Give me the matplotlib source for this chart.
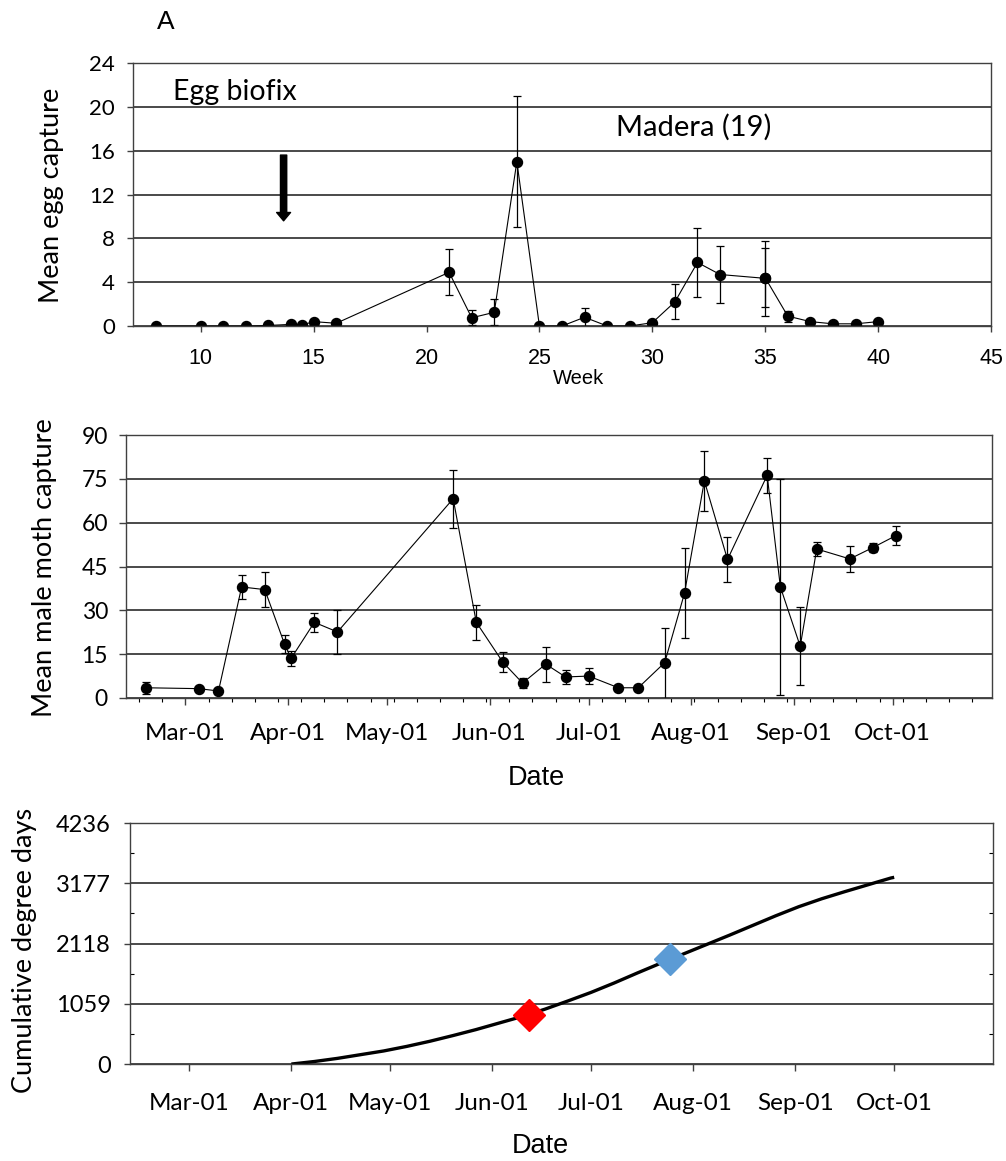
"""Madera trap data: egg capture, male moth capture and degree-day accumulation."""
from datetime import datetime, timedelta

import matplotlib
matplotlib.use("Agg")
import matplotlib.pyplot as plt
import matplotlib.dates as mdates
from matplotlib.ticker import MultipleLocator

CALIBRI = ["Lato", "DejaVu Sans"]
ARIAL = ["Liberation Sans", "DejaVu Sans"]
GRID = "#3c3c3c"
SPINE = "#404040"

# ── egg traps (by week) ───────────────────────────────────────────────────────
egg_week = [8, 10, 11, 12, 13, 14, 14.5, 15, 16, 21, 22, 23, 24, 25, 26, 27, 28,
            29, 30, 31, 32, 33, 35, 35, 36, 37, 38, 39, 40]
egg_mean = [0, 0, 0, 0, 0.05, 0.15, 0.1, 0.4, 0.25, 4.9, 0.75, 1.25, 15.0, 0, 0,
            0.8, 0, 0, 0.3, 2.2, 5.8, 4.7, 4.35, 4.4, 0.9, 0.4, 0.2, 0.2, 0.4]
egg_se = [0, 0, 0, 0, 0, 0.1, 0, 0.15, 0.1, 2.1, 0.7, 1.2, 6.0, 0, 0, 0.8, 0, 0,
          0.2, 1.6, 3.15, 2.6, 3.4, 2.7, 0.5, 0.1, 0.1, 0.1, 0.1]
biofix_week = 13.67

# ── male moth traps (by date) ─────────────────────────────────────────────────
moth_date = ["2001-02-17", "2001-03-05", "2001-03-11", "2001-03-18", "2001-03-25",
             "2001-03-31", "2001-04-02", "2001-04-09", "2001-04-16", "2001-05-21",
             "2001-05-28", "2001-06-05", "2001-06-11", "2001-06-18", "2001-06-24",
             "2001-07-01", "2001-07-10", "2001-07-16", "2001-07-24", "2001-07-30",
             "2001-08-05", "2001-08-12", "2001-08-24", "2001-08-28", "2001-09-03",
             "2001-09-08", "2001-09-18", "2001-09-25", "2001-10-02"]
moth_mean = [3.5, 3.2, 2.4, 38.0, 37.1, 18.4, 13.6, 25.9, 22.6, 68.2, 25.9, 12.3,
             5.1, 11.6, 7.2, 7.5, 3.5, 3.5, 12.1, 35.9, 74.3, 47.4, 76.2, 38.0,
             17.7, 51.0, 47.6, 51.5, 55.6]
moth_se = [2.1, 0.5, 0.5, 4.2, 6.0, 3.0, 2.5, 3.2, 7.4, 10.0, 6.0, 3.5, 1.8, 6.0,
           2.4, 2.8, 0.8, 0.8, 12.0, 15.4, 10.3, 7.6, 6.0, 37.0, 13.4, 2.5, 4.4,
           1.5, 3.4]

# ── cumulative degree days (weekly) ───────────────────────────────────────────
dd_date = ["2001-04-01", "2001-04-08", "2001-04-15", "2001-04-22", "2001-04-29",
           "2001-05-06", "2001-05-13", "2001-05-20", "2001-05-27", "2001-06-03",
           "2001-06-10", "2001-06-17", "2001-06-24", "2001-07-01", "2001-07-08",
           "2001-07-15", "2001-07-22", "2001-07-29", "2001-08-05", "2001-08-12",
           "2001-08-19", "2001-08-26", "2001-09-02", "2001-09-09", "2001-09-16",
           "2001-09-23", "2001-09-30", "2001-10-01"]
dd_value = [0, 45, 100, 165, 230, 310, 400, 500, 605, 720, 835, 965, 1110, 1260,
            1425, 1600, 1770, 1935, 2100, 2265, 2435, 2605, 2765, 2905, 3030,
            3150, 3270, 3282]
dd_ticks = [0, 1059, 2118, 3177, 4236]
flag_date = ["2001-06-12", "2001-07-25"]
flag_value = [861, 1846]
flag_color = ["#FF0000", "#5B9BD5"]

date_min = datetime(2001, 2, 11)
date_max = datetime(2001, 10, 31)


def _d(s):
    return datetime.strptime(s, "%Y-%m-%d")


def _frame(ax):
    for spine in ax.spines.values():
        spine.set_color(SPINE)
        spine.set_linewidth(1.0)
    ax.yaxis.grid(True, color=GRID, linewidth=1.3)
    ax.set_axisbelow(True)
    ax.tick_params(axis="both", colors=SPINE, width=1.0)


fig = plt.figure(figsize=(10.06, 11.61), dpi=100)

# ── A: egg capture ────────────────────────────────────────────────────────────
ax1 = fig.add_axes([0.1322, 0.7192, 0.8529, 0.2265])
_frame(ax1)
ax1.errorbar(egg_week, egg_mean, yerr=egg_se, fmt="-o", color="black",
             lw=0.8, ms=7.2, elinewidth=0.9, capsize=3, capthick=0.9)
ax1.set_xlim(7, 45)
ax1.set_ylim(0, 24)
ax1.set_xticks(range(10, 46, 5))
ax1.set_yticks(range(0, 25, 4))
ax1.tick_params(axis="y", length=4, pad=9, labelsize=16, labelcolor="black")
ax1.tick_params(axis="x", length=4, pad=12, labelsize=15.5, labelcolor="black")
for lab in ax1.get_yticklabels():
    lab.set_family(CALIBRI)
for lab in ax1.get_xticklabels():
    lab.set_family(ARIAL)
ax1.annotate("", xy=(biofix_week, 9.6), xytext=(biofix_week, 15.6),
             arrowprops=dict(facecolor="black", edgecolor="black", width=4.5,
                             headwidth=10, headlength=6, shrink=0))
ax1.text(8.75, 21.35, "Egg biofix", fontsize=20.5, family=CALIBRI, va="center")
ax1.text(28.4, 18.1, "Madera (19)", fontsize=21, family=CALIBRI, va="center")

fig.text(166 / 1006, 1 - 22 / 1161, "A", fontsize=19, family=ARIAL,
         ha="center", va="center")
fig.text(52 / 1006, 1 - 195 / 1161, "Mean egg capture", fontsize=19.5,
         family=CALIBRI, rotation=90, ha="center", va="center")
fig.text(579 / 1006, 1 - 379 / 1161, "Week", fontsize=14.5, family=ARIAL,
         ha="center", va="center")

# ── male moth capture ─────────────────────────────────────────────────────────
ax2 = fig.add_axes([0.1252, 0.3988, 0.8608, 0.2265])
_frame(ax2)
ax2.errorbar([_d(s) for s in moth_date], moth_mean, yerr=moth_se, fmt="-o",
             color="black", lw=0.8, ms=7.2, elinewidth=0.9, capsize=3,
             capthick=0.9)
ax2.set_xlim(date_min, date_max)
ax2.set_ylim(0, 90)
ax2.set_yticks(range(0, 91, 15))
ax2.xaxis.set_major_locator(mdates.MonthLocator(bymonthday=1))
ax2.xaxis.set_major_formatter(mdates.DateFormatter("%b-%d"))
weeks = []
w = datetime(2001, 2, 15)
while w <= date_max:
    weeks.append(w)
    w += timedelta(days=7)
ax2.set_xticks(weeks, minor=True)
ax2.tick_params(axis="y", length=5, pad=8, labelsize=16.5, labelcolor="black")
ax2.tick_params(axis="x", which="major", length=5, pad=13, labelsize=17.5,
                labelcolor="black")
ax2.tick_params(axis="x", which="minor", length=3, width=0.8)
for lab in ax2.get_yticklabels() + ax2.get_xticklabels():
    lab.set_family(CALIBRI)

fig.text(45 / 1006, 1 - 568 / 1161, "Mean male moth capture", fontsize=19.5,
         family=CALIBRI, rotation=90, ha="center", va="center")
fig.text(536 / 1006, 1 - 778 / 1161, "Date", fontsize=19.5, family=ARIAL,
         ha="center", va="center")

# ── cumulative degree days ────────────────────────────────────────────────────
ax3 = fig.add_axes([0.1292, 0.0835, 0.8579, 0.2076])
_frame(ax3)
ax3.plot([_d(s) for s in dd_date], dd_value, color="black", lw=2.4,
         solid_capstyle="butt")
for s, v, c in zip(flag_date, flag_value, flag_color):
    ax3.plot(_d(s), v, marker="D", ms=16, color=c, mec=c, zorder=5)
ax3.set_xlim(date_min, date_max)
ax3.set_ylim(0, dd_ticks[-1])
ax3.set_yticks(dd_ticks)
ax3.yaxis.set_minor_locator(MultipleLocator(dd_ticks[1] / 2))
ax3.xaxis.set_major_locator(mdates.MonthLocator(bymonthday=1))
ax3.xaxis.set_major_formatter(mdates.DateFormatter("%b-%d"))
ax3.tick_params(axis="y", which="major", length=4, pad=10, labelsize=17,
                labelcolor="black")
ax3.tick_params(axis="y", which="minor", direction="in", length=3, width=0.8,
                left=True, right=True)
ax3.tick_params(axis="x", which="major", length=5, pad=16, labelsize=17.5,
                labelcolor="black")
for lab in ax3.get_yticklabels() + ax3.get_xticklabels():
    lab.set_family(CALIBRI)

fig.text(25 / 1006, 1 - 950 / 1161, "Cumulative degree days", fontsize=19.5,
         family=CALIBRI, rotation=90, ha="center", va="center")
fig.text(540 / 1006, 1 - 1146 / 1161, "Date", fontsize=19.5, family=ARIAL,
         ha="center", va="center")

fig.savefig("out.png", dpi=100, facecolor="white")
